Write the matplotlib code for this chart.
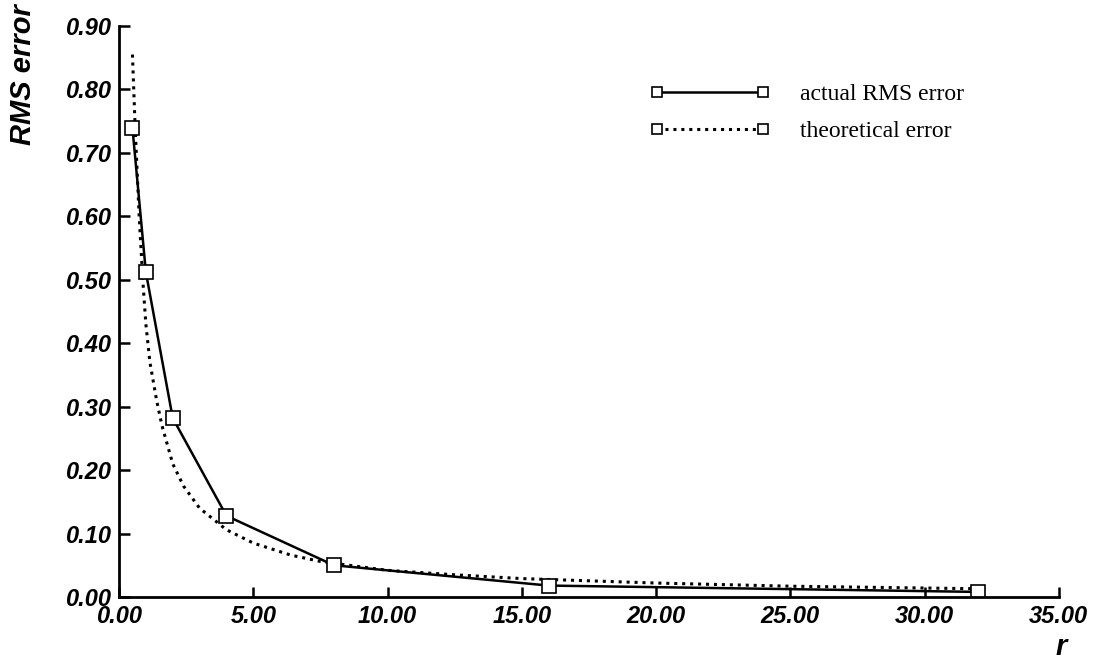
import matplotlib
matplotlib.use('Agg')
import matplotlib.pyplot as plt
from matplotlib.lines import Line2D

# measured RMS error at each r
r_actual = [0.5, 1.0, 2.0, 4.0, 8.0, 16.0, 32.0]
err_actual = [0.739, 0.512, 0.282, 0.128, 0.050, 0.018, 0.008]

# theoretical curve
r_theory = [0.5, 0.6, 0.75, 0.9, 1.0, 1.15, 1.4, 1.6, 2.0, 2.4, 3.0, 4.0,
            5.0, 6.4, 7.5, 10.0, 12.5, 15.0, 20.0, 25.0, 32.0]
err_theory = [0.855, 0.74, 0.60, 0.49, 0.43, 0.37, 0.31, 0.27, 0.21, 0.175,
              0.14, 0.106, 0.085, 0.066, 0.056, 0.042, 0.035, 0.029, 0.022,
              0.017, 0.013]

x_ticks = [0, 5, 10, 15, 20, 25, 30, 35]
y_ticks = [0.0, 0.1, 0.2, 0.3, 0.4, 0.5, 0.6, 0.7, 0.8, 0.9]

sans = 'Liberation Sans'
serif = 'Liberation Serif'

fig = plt.figure(figsize=(10.95, 6.62), dpi=100)
ax = fig.add_axes([0.1087, 0.0982, 0.8583, 0.8625])

ax.plot(r_theory, err_theory, color='black', lw=2.2, linestyle=(0, (1, 1.6)))
ax.plot(r_actual, err_actual, color='black', lw=1.8, marker='s',
        markersize=9.5, markerfacecolor='white', markeredgecolor='black',
        markeredgewidth=1.2)

ax.set_xlim(0, 35)
ax.set_ylim(0, 0.9)
ax.set_xticks(x_ticks)
ax.set_yticks(y_ticks)
ax.set_xticklabels(['%.2f' % v for v in x_ticks])
ax.set_yticklabels(['%.2f' % v for v in y_ticks])

for s in ['top', 'right']:
    ax.spines[s].set_visible(False)
for s in ['left', 'bottom']:
    ax.spines[s].set_linewidth(2)

ax.tick_params(axis='x', direction='in', length=7, width=1.8, pad=6)
ax.tick_params(axis='y', direction='in', length=8, width=1.8, pad=6)
for lab in ax.get_xticklabels() + ax.get_yticklabels():
    lab.set_fontfamily(sans)
    lab.set_fontweight('bold')
    lab.set_fontstyle('italic')
    lab.set_fontsize(17)

fig.text(0.021, 1 - 75 / 662, 'RMS error', rotation=90, ha='center',
         va='center', family=sans, weight='bold', style='italic', size=21)
fig.text(1061 / 1095, 1 - 647 / 662, 'r', ha='center', va='center',
         family=sans, weight='bold', style='italic', size=21)

# legend with squares at both ends of each sample line
h1 = Line2D([], [], color='black', lw=1.8, marker='s', markersize=7,
            markerfacecolor='white', markeredgecolor='black',
            markeredgewidth=1.2)
h2 = Line2D([], [], color='black', lw=2.2, linestyle=(0, (1, 1.6)),
            marker='s', markersize=7, markerfacecolor='white',
            markeredgecolor='black', markeredgewidth=1.2)
ax.legend([h1, h2], ['actual RMS error', 'theoretical error'],
          loc='upper left', bbox_to_anchor=(0.542, 0.937), frameon=False,
          numpoints=2, handlelength=5.1, handletextpad=1.27,
          labelspacing=0.68, prop={'family': serif, 'size': 17})

fig.savefig('out.png', dpi=100)
